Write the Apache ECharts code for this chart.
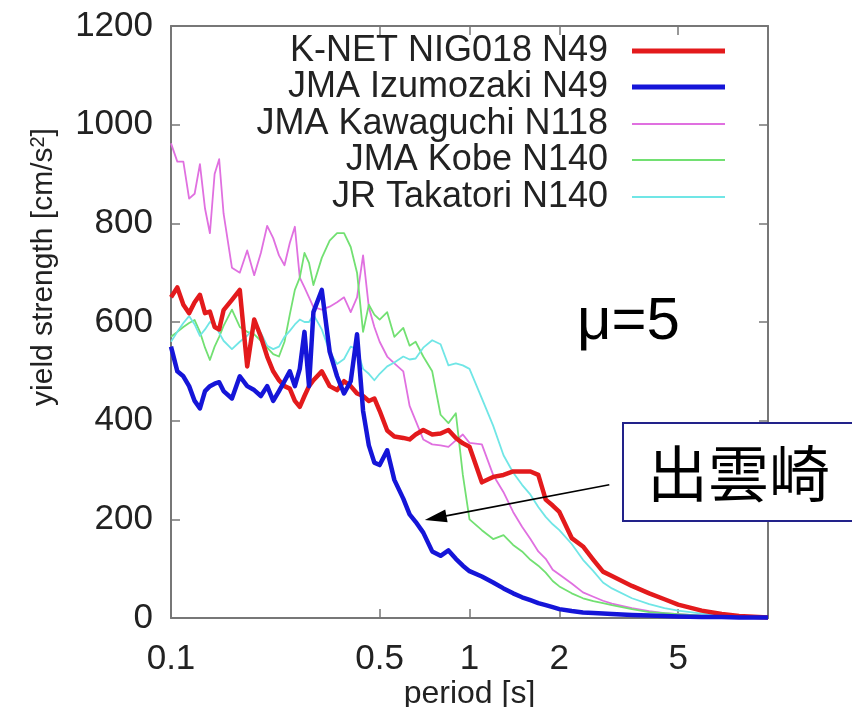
<!DOCTYPE html>
<html>
<head>
<meta charset="utf-8">
<script src="https://cdn.jsdelivr.net/npm/echarts@6/dist/echarts.min.js"></script>
<style>
  html, body { margin: 0; padding: 0; background: #fff; }
  #chart { width: 852px; height: 707px; }
</style>
</head>
<body>
<div id="chart"></div>
<script>
// Periods [s] shared by every station spectrum
const periods = [0.10, 0.105, 0.11, 0.115, 0.12, 0.125, 0.13, 0.135, 0.14, 0.145, 0.15,
  0.16, 0.17, 0.18, 0.19, 0.20, 0.21, 0.22, 0.23, 0.24, 0.25, 0.26, 0.27, 0.28, 0.29, 0.30,
  0.32, 0.34, 0.36, 0.38, 0.40, 0.42, 0.44, 0.46, 0.48, 0.50,
  0.53, 0.56, 0.60, 0.63, 0.66, 0.70, 0.75, 0.80, 0.85, 0.90, 0.95, 1.0,
  1.1, 1.2, 1.3, 1.4, 1.5, 1.6, 1.7, 1.8, 1.9, 2.0,
  2.2, 2.4, 2.6, 2.8, 3.0, 3.5, 4.0, 4.5, 5.0, 6.0, 7.0, 8.0, 10.0];

// Yield strength [cm/s^2] for ductility factor mu = 5
const knetNig018 = [650, 670, 635, 618, 640, 655, 618, 621, 590, 585, 624,
  645, 665, 510, 605, 570, 530, 500, 482, 470, 465, 440, 428, 450, 470, 482,
  500, 470, 462, 480, 470, 455, 450, 440, 445, 420,
  380, 368, 365, 362, 372, 381, 372, 374, 381, 365, 354, 347,
  275, 286, 290, 297, 297, 297, 290, 240, 228, 215,
  162, 145, 118, 94, 85, 65, 50, 38, 27, 15, 8, 4, 1];

const jmaIzumozaki = [550, 500, 490, 470, 440, 425, 460, 470, 475, 478, 460,
  445, 490, 470, 462, 450, 470, 440, 460, 480, 500, 470, 505, 580, 470, 620,
  665, 540, 490, 455, 480, 575, 420, 350, 315, 310,
  340, 280, 242, 210, 195, 173, 135, 126, 137, 120, 106, 95,
  84, 72, 60, 50, 42, 36, 30, 26, 22, 18,
  14, 11, 10, 9, 8, 6, 5, 4, 3, 2, 2, 1, 1];

const jmaKawaguchi = [962, 925, 925, 850, 860, 920, 830, 780, 900, 930, 820,
  710, 700, 745, 695, 740, 795, 770, 735, 715, 760, 793, 690, 670, 650, 630,
  625, 631, 640, 650, 620, 650, 735, 630, 590, 560,
  530, 516, 500, 430, 400, 362, 352, 350, 347, 360, 372, 355,
  352, 290, 255, 215, 185, 160, 135, 120, 98, 88,
  70, 52, 43, 35, 29, 20, 14, 10, 8, 5, 3, 2, 1];

const jmaKobe = [570, 580, 590, 598, 604, 580, 548, 523, 550, 570, 592,
  625, 590, 580, 575, 562, 548, 535, 530, 560, 615, 665, 690, 740, 720, 675,
  730, 765, 780, 780, 752, 700, 580, 635, 615, 605,
  620, 570, 588, 552, 560, 530, 500, 412, 395, 415, 290, 200,
  178, 160, 168, 148, 135, 118, 106, 92, 75, 64,
  50, 40, 34, 30, 26, 18, 12, 10, 8, 5, 3, 2, 1];

const jrTakatori = [560, 580, 598, 612, 595, 572, 585, 600, 595, 578, 562,
  545, 560, 572, 590, 578, 552, 545, 550, 570, 582, 595, 605, 600, 600, 615,
  585, 540, 515, 525, 550, 545, 505, 495, 482, 495,
  510, 518, 530, 524, 526, 548, 563, 555, 512, 516, 512, 505,
  445, 390, 330, 295, 270, 250, 225, 205, 190, 178,
  150, 118, 95, 72, 60, 40, 28, 20, 15, 9, 5, 3, 1];

const seriesNames = ['K-NET NIG018 N49', 'JMA Izumozaki N49', 'JMA Kawaguchi N118', 'JMA Kobe N140', 'JR Takatori N140'];
const seriesValues = [knetNig018, jmaIzumozaki, jmaKawaguchi, jmaKobe, jrTakatori];
const seriesColors = ['#e31a1c', '#1515d8', '#e070e0', '#72e072', '#70e6e6'];
const seriesWidths = [4.5, 4.5, 1.8, 1.8, 1.8];
const seriesZ = [4, 5, 2, 2, 3];

const xTickValues = [0.1, 0.5, 1, 2, 5];
const xTickLabels = ['0.1', '0.5', '1', '2', '5'];

// Arrow pointing at the Izumozaki curve: [period, value] of tail and head
const arrowTail = [2.94, 270];
const arrowHead = [0.77, 203];

const FONT = 'Liberation Sans, Arial, Helvetica, sans-serif';
const AXIS_COLOR = '#777';
const TEXT_COLOR = '#222';

const legendRows = [51, 87, 124, 160, 197];

const chart = echarts.init(document.getElementById('chart'), null, { renderer: 'canvas' });

function xLabel(v) {
  const i = xTickValues.findIndex(t => Math.abs(t - v) < 1e-6 * t);
  return i >= 0 ? xTickLabels[i] : '';
}

const commonX = {
  type: 'log',
  logBase: 10,
  min: 0.1,
  max: 10,
  axisLine: { show: true, onZero: false, lineStyle: { color: AXIS_COLOR, width: 2 } },
  axisTick: { show: true, inside: true, length: 9, customValues: xTickValues, lineStyle: { color: AXIS_COLOR, width: 1.5 } },
  minorTick: { show: false },
  splitLine: { show: false },
  minorSplitLine: { show: false }
};

const commonY = {
  type: 'value',
  min: 0,
  max: 1200,
  interval: 200,
  axisLine: { show: true, onZero: false, lineStyle: { color: AXIS_COLOR, width: 2 } },
  axisTick: { show: true, inside: true, length: 9, lineStyle: { color: AXIS_COLOR, width: 1.5 } },
  splitLine: { show: false }
};

const series = seriesNames.map((name, k) => {
  const s = {
    name: name,
    type: 'line',
    data: periods.map((p, i) => [p, seriesValues[k][i]]),
    xAxisIndex: 0,
    yAxisIndex: 0,
    symbol: 'none',
    showSymbol: false,
    smooth: false,
    z: seriesZ[k],
    color: seriesColors[k],
    itemStyle: { color: seriesColors[k] },
    lineStyle: { color: seriesColors[k], width: seriesWidths[k], join: 'round' },
    emphasis: { disabled: true },
    silent: true
  };
  if (k === 1) {
    s.markLine = {
      silent: true,
      animation: false,
      symbol: ['none', 'triangle'],
      symbolSize: [13, 22],
      label: { show: false },
      lineStyle: { color: '#000', width: 1.6, type: 'solid' },
      emphasis: { disabled: true },
      data: [[{ coord: arrowTail }, { coord: arrowHead }]]
    };
  }
  return s;
});

const legends = seriesNames.map((name, k) => ({
  data: [name],
  right: 127,
  top: legendRows[k] - 18,
  orient: 'horizontal',
  align: 'right',
  icon: 'rect',
  itemWidth: 93,
  itemHeight: Math.round(seriesWidths[k]),
  padding: 0,
  selectedMode: false,
  formatter: '{t|{name}}{g| }',
  textStyle: {
    color: TEXT_COLOR,
    fontFamily: FONT,
    fontSize: 36,
    rich: {
      t: { color: TEXT_COLOR, fontFamily: FONT, fontSize: 36, lineHeight: 36 },
      g: { width: 19, fontSize: 10 }
    }
  }
}));

const option = {
  animation: false,
  backgroundColor: '#fff',
  grid: { left: 171, right: 84, top: 26, bottom: 89, containLabel: false, outerBoundsMode: 'none' },
  legend: legends,
  xAxis: [
    Object.assign({}, commonX, {
      position: 'bottom',
      axisLabel: {
        show: true,
        customValues: xTickValues,
        formatter: xLabel,
        color: TEXT_COLOR,
        fontFamily: FONT,
        fontSize: 35,
        margin: 24
      },
      name: 'period [s]',
      nameLocation: 'middle',
      nameGap: 60,
      nameMoveOverlap: false,
      nameTextStyle: { color: TEXT_COLOR, fontFamily: FONT, fontSize: 32 }
    }),
    Object.assign({}, commonX, {
      position: 'top',
      axisLabel: { show: false }
    })
  ],
  yAxis: [
    Object.assign({}, commonY, {
      position: 'left',
      axisLabel: {
        show: true,
        formatter: v => String(v),
        color: TEXT_COLOR,
        fontFamily: FONT,
        fontSize: 35,
        margin: 18
      }
    }),
    Object.assign({}, commonY, {
      position: 'right',
      axisLabel: { show: false }
    })
  ],
  series: series,
  graphic: [
    {
      type: 'text',
      x: 44,
      y: 267,
      rotation: Math.PI / 2,
      z: 10,
      style: {
        text: 'yield strength [cm/s{sup|2}]',
        fill: TEXT_COLOR,
        fontFamily: FONT,
        fontSize: 30,
        align: 'center',
        verticalAlign: 'middle',
        rich: {
          sup: { fontFamily: FONT, fontSize: 20, fill: TEXT_COLOR, verticalAlign: 'top', padding: [0, 0, 12, 0] }
        }
      }
    },
    {
      type: 'text',
      x: 577,
      y: 322,
      z: 10,
      style: {
        text: 'μ=5',
        fill: '#000',
        fontFamily: FONT,
        fontSize: 60,
        align: 'left',
        verticalAlign: 'middle'
      }
    },
    {
      type: 'rect',
      z: 20,
      shape: { x: 623, y: 423, width: 240, height: 98 },
      style: { fill: '#fff', stroke: '#22228a', lineWidth: 2 }
    },
    {
      type: 'text',
      x: 647,
      y: 474,
      z: 21,
      style: {
        text: '出雲崎',
        fill: '#000',
        fontFamily: 'Noto Sans CJK JP, Noto Sans CJK SC, sans-serif',
        fontSize: 61,
        align: 'left',
        verticalAlign: 'middle'
      }
    }
  ]
};

chart.setOption(option);
</script>
</body>
</html>
